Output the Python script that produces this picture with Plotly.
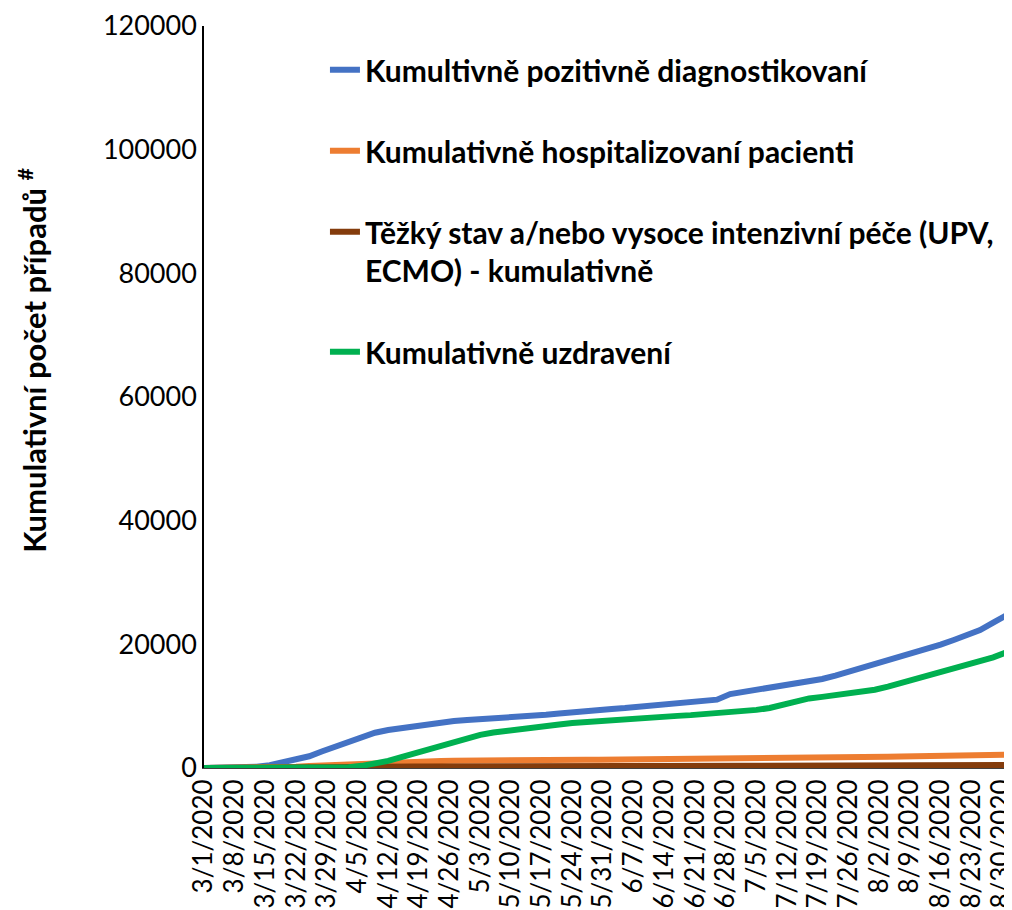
import pandas as pd
import plotly.graph_objects as go

# every third day from 3/1/2020
dates = [d.strftime("%Y-%m-%d") for d in pd.date_range("2020-03-01", "2020-08-31", freq="3D")]

positive = [0, 5, 30, 100, 200, 450, 950, 1400, 1900, 2700, 3400, 4300, 5050, 5700, 6150, 6450,
            6900, 7200, 7450, 7600, 7780, 7880, 7980, 8100, 8250, 8430, 8600, 8800, 9050, 9250, 9400,
            9560, 9700, 9880, 10050, 10200, 10380, 10550, 10760, 11050, 11950, 12300, 12650, 12900,
            13150, 13500, 13920, 14400, 14950, 15550, 16200, 16850, 17450, 18050, 18650, 19300,
            19950, 20700, 21500, 22300, 23500, 24700]

hospitalized = [0, 0, 0, 0, 20, 60, 130, 220, 320, 420, 530, 640, 740, 830, 910, 970, 1030, 1080,
                1120, 1160, 1200, 1230, 1250, 1270, 1290, 1300, 1310, 1320, 1330, 1340, 1350, 1360,
                1370, 1380, 1390, 1400, 1410, 1420, 1430, 1440, 1450, 1465, 1480, 1500, 1530, 1560,
                1590, 1620, 1650, 1690, 1720, 1760, 1800, 1840, 1880, 1920, 1960, 2000, 2040, 2080,
                2120, 2160]

severe = [0, 0, 0, 0, 0, 5, 15, 30, 50, 75, 100, 125, 150, 175, 200, 220, 240, 255, 270, 280, 290,
          300, 305, 310, 314, 318, 322, 326, 330, 334, 337, 340, 343, 346, 349, 352, 355, 358, 361,
          364, 367, 370, 374, 378, 382, 386, 390, 395, 400, 405, 410, 415, 420, 425, 431, 437, 443,
          450, 457, 465, 475, 490]

recovered = [0, 0, 0, 0, 0, 0, 0, 5, 10, 25, 60, 130, 350, 700, 1150, 1750, 2350, 3050, 3750, 4250,
             4800, 5350, 5750, 6050, 6300, 6600, 6850, 7050, 7280, 7450, 7620, 7800, 7980, 8150, 8250,
             8340, 8430, 8550, 8680, 8820, 9050, 9250, 9400, 9700, 10250, 10800, 11250, 11500, 11750,
             12000, 12300, 12650, 13150, 13750, 14300, 14900, 15500, 16100, 16600, 17200, 17900, 18700]

tick_dates = [d.strftime("%Y-%m-%d") for d in pd.date_range("2020-03-01", "2020-08-30", freq="7D")]
tick_labels = ["3/1/2020", "3/8/2020", "3/15/2020", "3/22/2020", "3/29/2020", "4/5/2020",
               "4/12/2020", "4/19/2020", "4/26/2020", "5/3/2020", "5/10/2020", "5/17/2020",
               "5/24/2020", "5/31/2020", "6/7/2020", "6/14/2020", "6/21/2020", "6/28/2020",
               "7/5/2020", "7/12/2020", "7/19/2020", "7/26/2020", "8/2/2020", "8/9/2020",
               "8/16/2020", "8/23/2020", "8/30/2020"]

series = [
    ("Kumultivně pozitivně diagnostikovaní", positive, "#4472C4"),
    ("Kumulativně hospitalizovaní pacienti", hospitalized, "#ED7D31"),
    ("Těžký stav a/nebo vysoce intenzivní péče (UPV,<br>ECMO) - kumulativně", severe, "#843C0C"),
    ("Kumulativně uzdravení", recovered, "#00B050"),
]

fig = go.Figure()
for i, (name, vals, color) in enumerate(series):
    fig.add_trace(go.Scatter(x=dates, y=vals, name=name, mode="lines",
                             legendgroup=f"g{i}", line=dict(color=color, width=6)))

# page body has an 8px margin and the visible area stops at the body's content box
fig.update_layout(
    width=996, height=902,
    margin=dict(l=196, r=0, t=18, b=142, autoexpand=False),
    plot_bgcolor="white", paper_bgcolor="white",
    font=dict(family="Lato", size=27, color="black"),
    legend=dict(x=0.1512, y=0.976, xanchor="left", yanchor="top", tracegroupgap=39, valign="top",
                font=dict(family="Lato", size=30, color="black", weight="bold"),
                bgcolor="rgba(0,0,0,0)"),
    annotations=[dict(text="Kumulativní počet případů <sup>#</sup>", textangle=-90,
                      xref="paper", yref="paper", x=-0.2138, y=0.55,
                      xanchor="center", yanchor="middle",
                      showarrow=False, font=dict(family="Lato", size=31, weight="bold"))],
)
fig.update_xaxes(type="date", range=["2020-03-01", "2020-08-30 11:00"],
                 tickvals=tick_dates, ticktext=tick_labels, tickangle=-90,
                 tickfont=dict(size=26), ticklabeloverflow="allow",
                 showline=True, linecolor="#404040", linewidth=1, showgrid=False, ticks="")
fig.update_yaxes(range=[0, 120000], tickvals=[0, 20000, 40000, 60000, 80000, 100000, 120000],
                 tickformat="d", showline=True, linecolor="black", linewidth=1.5,
                 showgrid=False, zeroline=False, ticks="")

fig.write_html("out.html")
